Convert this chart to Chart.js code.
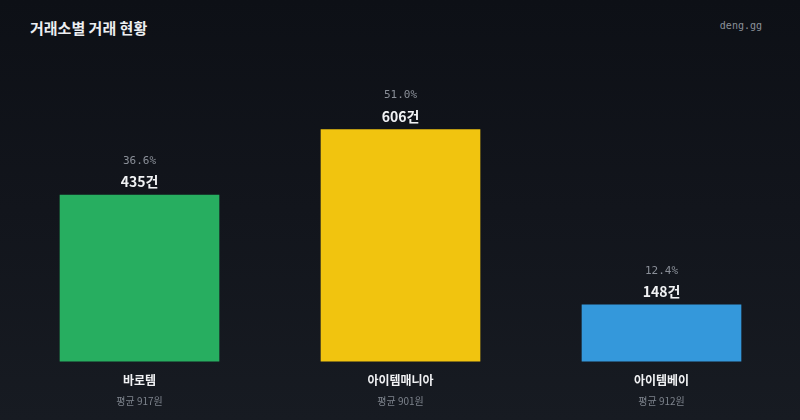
<!DOCTYPE html>
<html>
<head>
<meta charset="utf-8">
<script src="https://cdn.jsdelivr.net/npm/chart.js@4/dist/chart.umd.min.js"></script>
<style>
  html, body { margin: 0; padding: 0; }
  body { width: 800px; height: 420px; overflow: hidden;
    background: linear-gradient(180deg, #0d1016 0%, #12151c 50%, #171b22 100%);
    position: relative; font-family: "Noto Sans CJK KR", "Noto Sans", sans-serif; }
  #title { position: absolute; left: 30px; top: 17px; color: #eceef1; font-size: 15px; font-weight: 700; }
  #brand { position: absolute; right: 38px; top: 20px; color: #8b9099; font-size: 10px; font-family: "DejaVu Sans Mono", monospace; }
  #wrap { position: absolute; left: 0; top: 0; width: 800px; height: 420px; }
</style>
</head>
<body>
<div id="title">거래소별 거래 현황</div>
<div id="brand">deng.gg</div>
<div id="wrap"><canvas id="c"></canvas></div>
<script>
const categories = ["바로템", "아이템매니아", "아이템베이"];
const counts = [435, 606, 148];
const shares = ["36.6%", "51.0%", "12.4%"];
const avgPrices = ["평균 917원", "평균 901원", "평균 912원"];
const colors = ["#27ae60", "#f1c40f", "#3498db"];

const labelPlugin = {
  id: 'labels',
  afterDatasetsDraw(chart) {
    const ctx = chart.ctx;
    const meta = chart.getDatasetMeta(0);
    const xs = chart.scales.x;
    ctx.save();
    ctx.textAlign = 'center';
    ctx.textBaseline = 'middle';
    meta.data.forEach((bar, i) => {
      const x = bar.x, top = bar.y;
      ctx.fillStyle = '#8a8f98';
      ctx.font = '11px "DejaVu Sans Mono", monospace';
      ctx.fillText(shares[i], x, top - 34);
      ctx.fillStyle = '#f1f2f4';
      ctx.font = 'bold 14px "Noto Sans CJK KR", sans-serif';
      ctx.fillText(counts[i] + '건', x, top - 13);
      ctx.fillStyle = '#7d838c';
      ctx.font = '10px "Noto Sans CJK KR", sans-serif';
      ctx.fillText(avgPrices[i], xs.getPixelForValue(i), chart.chartArea.bottom + 40);
    });
    ctx.restore();
  }
};

new Chart(document.getElementById('c'), {
  type: 'bar',
  data: {
    labels: categories,
    datasets: [{ data: counts, backgroundColor: colors, borderWidth: 0, barThickness: 159 }]
  },
  options: {
    responsive: true,
    maintainAspectRatio: false,
    animation: false,
    layout: { padding: { left: 9, right: 8, top: 60, bottom: 20 } },
    plugins: { legend: { display: false }, tooltip: { enabled: false }, title: { display: false } },
    scales: {
      y: { display: false, beginAtZero: true, max: Math.max(...counts) * 1.3 },
      x: {
        grid: { display: false, drawTicks: false },
        border: { display: false },
        ticks: { color: '#f1f2f4', padding: 12, font: { family: '"Noto Sans CJK KR", sans-serif', size: 12, weight: 'bold' } }
      }
    }
  },
  plugins: [labelPlugin]
});
</script>
</body>
</html>
